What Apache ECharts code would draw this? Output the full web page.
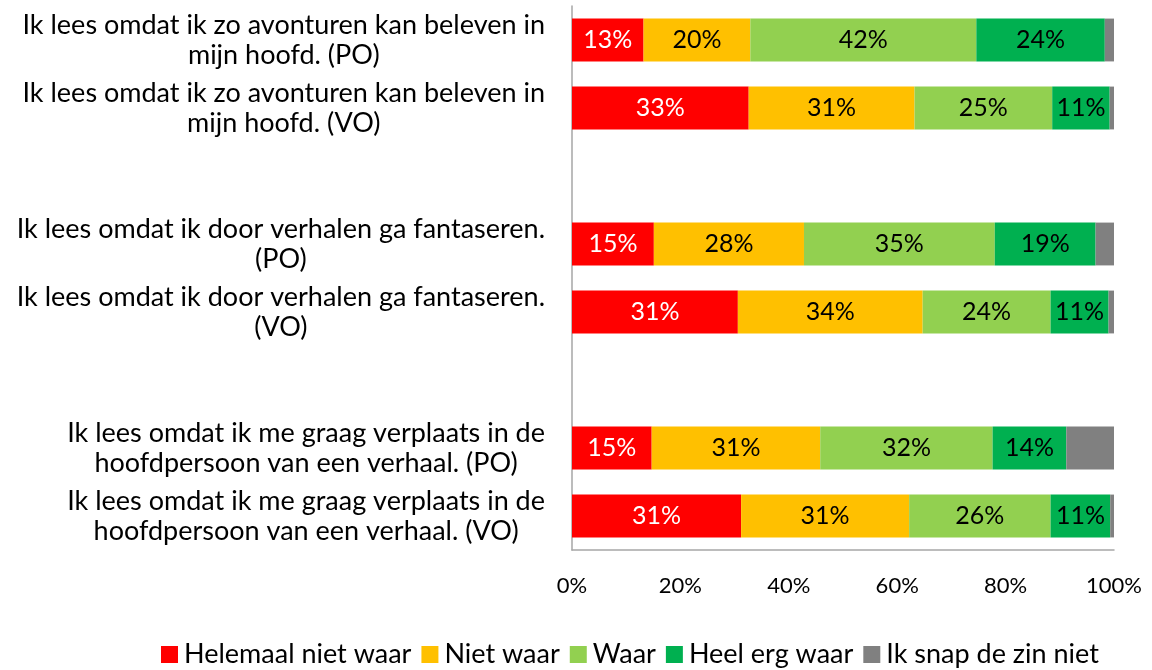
<!DOCTYPE html>
<html lang="nl">
<head>
    <meta charset="UTF-8">
    <title>Leesmotivatie</title>
    <script src="https://cdn.jsdelivr.net/npm/echarts@6/dist/echarts.min.js"></script>
    <style>
        *{
            padding:0;
            margin:0;
        }
        html,body{
            height:100%;
            background:#fff;
        }
        #main{
            width:1152px;
            height:670px;
        }
    </style>
</head>
<body>
<div id="main"></div>
<script>
    // categorieen van boven naar beneden, lege regels zijn de witruimtes tussen de groepen
    var vragen = [
        'Ik lees omdat ik zo avonturen kan beleven in\nmijn hoofd. (PO)',
        'Ik lees omdat ik zo avonturen kan beleven in\nmijn hoofd. (VO)',
        '',
        'Ik lees omdat ik door verhalen ga fantaseren.\n(PO)',
        'Ik lees omdat ik door verhalen ga fantaseren.\n(VO)',
        ' ',
        'Ik lees omdat ik me graag verplaats in de\nhoofdpersoon van een verhaal. (PO)',
        'Ik lees omdat ik me graag verplaats in de\nhoofdpersoon van een verhaal. (VO)'
    ];
    var reeksNamen = ['Helemaal niet waar', 'Niet waar', 'Waar', 'Heel erg waar', 'Ik snap de zin niet'];
    var kleuren = ['#ff0000', '#ffc000', '#92d050', '#00b050', '#808080'];

    var helemaalNiet = [13.2, 32.6, '-', 15.1, 30.6, '-', 14.7, 31.2];
    var nietWaar     = [19.7, 30.6, '-', 27.7, 34.1, '-', 31.1, 31.0];
    var waar         = [41.7, 25.4, '-', 35.2, 23.6, '-', 31.8, 26.1];
    var heelErg      = [23.7, 10.6, '-', 18.6, 10.7, '-', 13.6, 11.0];
    var snapNiet     = [1.7, 0.8, '-', 3.4, 1.0, '-', 8.8, 0.7];

    var xTicks = [0, 20, 40, 60, 80, 100];

    var font = 'Lato, "Open Sans", sans-serif';
    var myChart = echarts.init(document.getElementById('main'));

    function reeks(i, data, showLabel) {
        return {
            name: reeksNamen[i],
            type: 'bar',
            stack: 'totaal',
            barWidth: '63%',
            data: data,
            itemStyle: {
                color: kleuren[i]
            },
            label: {
                show: showLabel,
                position: 'inside',
                fontFamily: font,
                fontSize: 25,
                color: i === 0 ? '#fff' : '#000',
                formatter: function (p) {
                    return Math.round(p.value) + '%';
                }
            }
        };
    }

    var option = {
        animation: false,
        textStyle: {
            fontFamily: font
        },
        grid: {
            left: 572,
            right: 38,
            top: 6,
            bottom: 120
        },
        legend: {
            data: reeksNamen,
            left: 156,
            top: 636,
            itemWidth: 17,
            itemHeight: 17,
            itemGap: 10,
            icon: 'rect',
            textStyle: {
                fontFamily: font,
                fontSize: 27,
                color: '#000',
                padding: [0, 0, 0, 1]
            }
        },
        xAxis: {
            type: 'value',
            min: 0,
            max: 100,
            interval: 20,
            splitLine: { show: false },
            axisLine: {
                show: true,
                lineStyle: { color: '#a6a6a6', width: 1.5 }
            },
            axisTick: { show: false },
            axisLabel: {
                margin: 25,
                fontFamily: font,
                fontSize: 22,
                color: '#000',
                formatter: function (v) {
                    return xTicks.indexOf(v) > -1 ? v + '%' : '';
                }
            }
        },
        yAxis: {
            type: 'category',
            inverse: true,
            data: vragen,
            axisLine: {
                show: true,
                lineStyle: { color: '#a6a6a6', width: 1.5 }
            },
            axisTick: { show: false },
            axisLabel: {
                margin: 27,
                align: 'right',
                fontFamily: font,
                fontSize: 27,
                color: '#000',
                lineHeight: 30,
                formatter: function (v) {
                    if (!v.trim()) return '';
                    return v.split('\n').map(function (r) {
                        return '{c|' + r + '}';
                    }).join('\n');
                },
                rich: {
                    c: {
                        align: 'center',
                        fontFamily: font,
                        fontSize: 27,
                        lineHeight: 30,
                        color: '#000'
                    }
                }
            }
        },
        series: [
            reeks(0, helemaalNiet, true),
            reeks(1, nietWaar, true),
            reeks(2, waar, true),
            reeks(3, heelErg, true),
            reeks(4, snapNiet, false)
        ]
    };
    myChart.setOption(option);
</script>
</body>
</html>
